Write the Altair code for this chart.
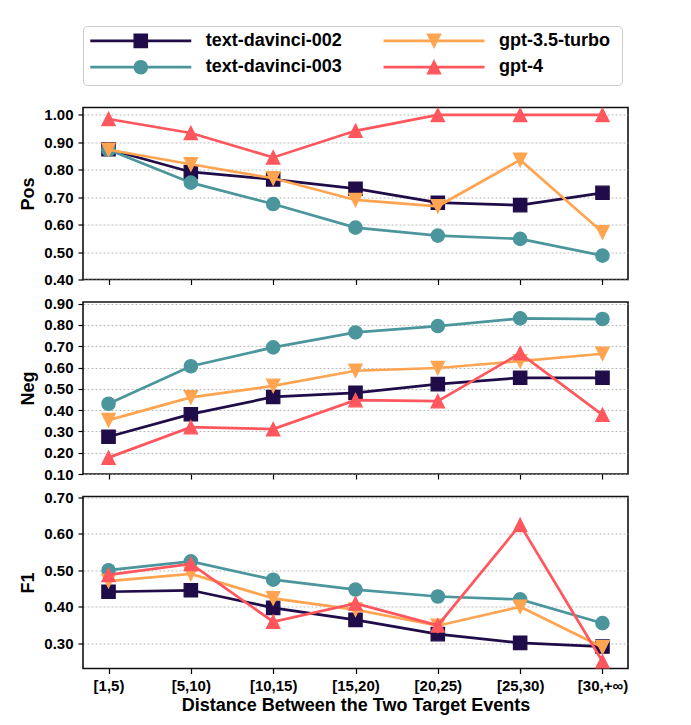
import altair as alt
import pandas as pd

# ---------------- data ----------------
categories = ["[1,5)", "[5,10)", "[10,15)", "[15,20)", "[20,25)", "[25,30)", "[30,+∞)"]
models = ["text-davinci-002", "text-davinci-003", "gpt-3.5-turbo", "gpt-4"]

pos_td002 = [0.875, 0.792, 0.765, 0.731, 0.680, 0.671, 0.716]
pos_td003 = [0.873, 0.753, 0.675, 0.589, 0.560, 0.548, 0.487]
pos_gpt35 = [0.873, 0.820, 0.769, 0.690, 0.667, 0.836, 0.572]
pos_gpt4 = [0.985, 0.934, 0.845, 0.942, 1.000, 1.000, 1.000]

neg_td002 = [0.275, 0.381, 0.462, 0.481, 0.522, 0.552, 0.552]
neg_td003 = [0.430, 0.606, 0.695, 0.765, 0.795, 0.831, 0.828]
neg_gpt35 = [0.353, 0.460, 0.514, 0.585, 0.598, 0.630, 0.665]
neg_gpt4 = [0.177, 0.320, 0.311, 0.447, 0.442, 0.667, 0.378]

f1_td002 = [0.441, 0.445, 0.397, 0.364, 0.325, 0.301, 0.291]
f1_td003 = [0.500, 0.524, 0.474, 0.447, 0.428, 0.420, 0.355]
f1_gpt35 = [0.470, 0.490, 0.423, 0.392, 0.348, 0.400, 0.289]
f1_gpt4 = [0.487, 0.517, 0.359, 0.409, 0.349, 0.624, 0.250]

pos_ticks = [0.40, 0.50, 0.60, 0.70, 0.80, 0.90, 1.00]
neg_ticks = [0.10, 0.20, 0.30, 0.40, 0.50, 0.60, 0.70, 0.80, 0.90]
f1_ticks = [0.30, 0.40, 0.50, 0.60, 0.70]

x_title = "Distance Between the Two Target Events"

# ---------------- styles ----------------
colors = ["#1f0c48", "#4b969d", "#ffa552", "#ff575d"]
shapes = ["square", "circle", "M-1,-1L1,-1L0,1Z", "M0,-1L1,1L-1,1Z"]
FONT = "Liberation Sans"

series = {
    "Pos": [pos_td002, pos_td003, pos_gpt35, pos_gpt4],
    "Neg": [neg_td002, neg_td003, neg_gpt35, neg_gpt4],
    "F1": [f1_td002, f1_td003, f1_gpt35, f1_gpt4],
}

rows = []
for metric, vals in series.items():
    for m, v in zip(models, vals):
        for c, val in zip(categories, v):
            rows.append({"metric": metric, "model": m, "dist": c, "value": val})
df = pd.DataFrame(rows)

legend_df = pd.DataFrame(
    {"model": models, "col": [i // 2 for i in range(4)], "row": [i % 2 for i in range(4)]}
)

PW, PH = 545, 172


def panel(metric, domain, ticks, bottom):
    xaxis = alt.Axis(
        title=x_title if bottom else None,
        labels=bottom,
        labelAngle=0,
        labelPadding=5,
        titlePadding=3,
        ticks=True,
        domain=False,
        grid=False,
    )
    x = alt.X("dist:O", sort=categories, scale=alt.Scale(type="point", padding=0.31), axis=xaxis)
    y = alt.Y(
        "value:Q",
        scale=alt.Scale(domain=domain, nice=False, zero=False),
        axis=alt.Axis(
            title=metric,
            values=ticks,
            format=".2f",
            grid=True,
            domain=False,
            labelPadding=5,
            titlePadding=6,
        ),
    )
    layers = []
    for m, col, shp in zip(models, colors, shapes):
        base = alt.Chart(df).transform_filter(
            (alt.datum.metric == metric) & (alt.datum.model == m)
        )
        layers.append(
            base.mark_line(color=col, strokeWidth=2.7, clip=True).encode(x=x, y=y)
        )
        layers.append(
            base.mark_point(
                shape=shp, fill=col, stroke=col, strokeWidth=1.3, filled=True,
                opacity=1, size=177, clip=True,
            ).encode(x=x, y=y)
        )
    return alt.layer(*layers).properties(width=PW, height=PH)


# ---------------- legend ----------------
LW, LH = 539, 59
lx = alt.X("col:Q", scale=alt.Scale(domain=[-0.197, 1.641], nice=False, zero=False), axis=None)
ly = alt.Y("row:Q", scale=alt.Scale(domain=[-0.566, 1.676], nice=False, zero=False, reverse=True), axis=None)
cscale = alt.Scale(domain=models, range=colors)
sscale = alt.Scale(domain=models, range=shapes)

leg_base = alt.Chart(legend_df)
leg_line = leg_base.mark_rule(strokeWidth=2.7, xOffset=-50.5, x2Offset=50.5).encode(
    x=lx, x2="col:Q", y=ly,
    color=alt.Color("model:N", scale=cscale, legend=None),
)
leg_pt = leg_base.mark_point(filled=True, opacity=1, size=177, strokeWidth=1.3).encode(
    x=lx, y=ly,
    fill=alt.Fill("model:N", scale=cscale, legend=None),
    stroke=alt.Stroke("model:N", scale=cscale, legend=None),
    shape=alt.Shape("model:N", scale=sscale, legend=None),
)
leg_txt = leg_base.mark_text(
    align="left", baseline="middle", dx=65, font=FONT, fontSize=18,
    fontWeight="bold", color="black",
).encode(x=lx, y=ly, text="model:N")

legend = alt.layer(leg_line, leg_pt, leg_txt).properties(
    width=LW, height=LH,
    view=alt.ViewBackground(stroke="#cccccc", strokeWidth=1, cornerRadius=4),
)

chart = alt.vconcat(
    legend,
    panel("Pos", [0.40, 1.027], pos_ticks, False),
    panel("Neg", [0.10, 0.908], neg_ticks, False),
    panel("F1", [0.231, 0.7016], f1_ticks, True),
    spacing=22.5,
    bounds="flush",
).properties(
    padding={"left": 19, "top": 25, "right": 5, "bottom": 5}
).configure(
    font=FONT
).configure_view(
    stroke="#111111", strokeWidth=1.6
).configure_axis(
    labelFont=FONT, labelFontSize=15, labelFontWeight="bold", labelColor="black",
    titleFont=FONT, titleFontSize=18, titleFontWeight="bold", titleColor="black",
    tickColor="black", tickSize=5, tickWidth=1.2,
    gridColor="#aaaaaa", gridDash=[2, 2], gridWidth=0.8,
)

chart.save("out.html", embed_options={"renderer": "svg", "actions": False})
